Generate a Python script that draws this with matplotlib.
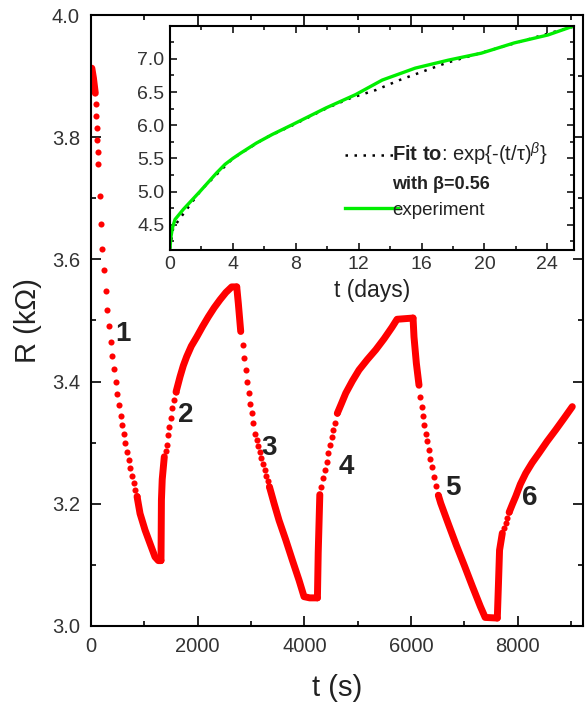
import matplotlib
matplotlib.use("Agg")
import matplotlib.pyplot as plt
from matplotlib.ticker import MultipleLocator, FormatStrFormatter

plt.rcParams["font.family"] = ["Liberation Sans", "DejaVu Sans"]
plt.rcParams["mathtext.fontset"] = "custom"
plt.rcParams["mathtext.rm"] = "Liberation Sans"
plt.rcParams["mathtext.bf"] = "Liberation Sans:bold"
plt.rcParams["mathtext.it"] = "Liberation Sans:italic"

# ---- main panel: resistance vs time (s) ----
# dense stretches (dots merge into a thick trace) and sparse dots, per segment
line1a_t = [15, 45, 80]
line1a_r = [3.913, 3.897, 3.872]
dots1_t = [85, 95, 105, 116, 126, 136, 164, 188, 214, 245, 276, 307, 338, 368, 399,
           430, 461, 492, 523, 554, 585, 615, 645, 675, 705, 735, 767, 800, 832, 863]
dots1_r = [3.854, 3.835, 3.815, 3.795, 3.775, 3.756, 3.704, 3.658, 3.617, 3.582, 3.549,
           3.518, 3.491, 3.465, 3.442, 3.421, 3.399, 3.380, 3.362, 3.344, 3.329, 3.314,
           3.299, 3.284, 3.271, 3.258, 3.246, 3.234, 3.223, 3.212]
line1b_t = [863, 919, 1013, 1106, 1200, 1262, 1312]
line1b_r = [3.212, 3.184, 3.157, 3.135, 3.113, 3.107, 3.107]

line2a_t = [1312, 1320, 1335, 1374]
line2a_r = [3.107, 3.206, 3.240, 3.277]
dots2_t = [1400, 1419, 1444, 1468, 1495, 1525, 1556, 1594]
dots2_r = [3.287, 3.296, 3.313, 3.326, 3.341, 3.356, 3.370, 3.383]
line2b_t = [1594, 1669, 1730, 1794, 1880, 1982, 2090, 2199, 2310, 2419, 2530, 2638, 2732]
line2b_r = [3.383, 3.408, 3.426, 3.441, 3.458, 3.473, 3.490, 3.506, 3.521, 3.534, 3.546,
            3.555, 3.555]

line3a_t = [2732, 2762, 2807]
line3a_r = [3.555, 3.528, 3.482]
dots3_t = [2844, 2874, 2901, 2928, 2957, 2984, 3013, 3043, 3075, 3105, 3135, 3165,
           3195, 3225, 3255, 3285, 3315, 3345]
dots3_r = [3.460, 3.438, 3.419, 3.400, 3.381, 3.364, 3.348, 3.332, 3.315, 3.305, 3.295,
           3.285, 3.275, 3.265, 3.256, 3.246, 3.237, 3.228]
line3b_t = [3345, 3431, 3525, 3651, 3774, 3900, 3994, 4100, 4245]
line3b_r = [3.228, 3.201, 3.173, 3.141, 3.108, 3.075, 3.048, 3.046, 3.046]

line4a_t = [4245, 4260, 4290]
line4a_r = [3.046, 3.120, 3.215]
dots4_t = [4307, 4350, 4388, 4419, 4449, 4481, 4513, 4543, 4575, 4618]
dots4_r = [3.228, 3.242, 3.255, 3.269, 3.283, 3.296, 3.310, 3.321, 3.332, 3.348]
line4b_t = [4618, 4700, 4776, 4900, 5025, 5180, 5338, 5494, 5644, 5738, 6038]
line4b_r = [3.348, 3.365, 3.381, 3.401, 3.419, 3.436, 3.452, 3.470, 3.489, 3.502, 3.504]

line5a_t = [6038, 6056, 6100, 6150]
line5a_r = [3.504, 3.473, 3.430, 3.394]
dots5_t = [6175, 6198, 6222, 6248, 6274, 6302, 6332, 6362, 6393, 6428, 6470, 6512]
dots5_r = [3.375, 3.359, 3.343, 3.329, 3.315, 3.302, 3.288, 3.274, 3.261, 3.244, 3.229, 3.214]
line5b_t = [6512, 6557, 6700, 6850, 7000, 7150, 7300, 7390, 7618]
line5b_r = [3.214, 3.201, 3.167, 3.132, 3.099, 3.065, 3.032, 3.014, 3.013]

line6a_t = [7618, 7640, 7660, 7712]
line6a_r = [3.013, 3.070, 3.124, 3.152]
dots6_t = [7745, 7776, 7808, 7840]
dots6_r = [3.160, 3.168, 3.177, 3.186]
line6b_t = [7840, 7900, 7963, 8050, 8151, 8270, 8400, 8550, 8713, 8870, 9024]
line6b_r = [3.186, 3.199, 3.212, 3.232, 3.250, 3.267, 3.283, 3.302, 3.321, 3.340, 3.359]

seg_labels = ["1", "2", "3", "4", "5", "6"]
seg_label_t = [600, 1781, 3337, 4781, 6788, 8231]
seg_label_r = [3.478, 3.345, 3.291, 3.260, 3.226, 3.209]

# ---- inset: long-term recovery (days) ----
exp_days = [0, 0.05, 0.15, 0.32, 0.84, 1.9, 2.96, 3.5, 4.0, 4.5, 5.49, 6.5, 7.8, 9.92,
            11.8, 13.5, 15.6, 17.7, 19.8, 21.9, 24.05, 25.5]
exp_vals = [4.14, 4.30, 4.45, 4.58, 4.73, 5.00, 5.28, 5.41, 5.50, 5.58, 5.73, 5.86,
            6.01, 6.26, 6.46, 6.68, 6.86, 6.98, 7.085, 7.24, 7.36, 7.48]
fit_days = [0, 0.2, 0.74, 2, 4, 6, 7.8, 10, 11.5, 13.1, 14.6, 16.1, 17.6, 19.5, 22,
            24.5, 25.6]
fit_vals = [4.14, 4.45, 4.63, 5.03, 5.50, 5.80, 6.00, 6.26, 6.41, 6.53, 6.68, 6.81,
            6.94, 7.07, 7.24, 7.41, 7.48]

RED = "#ff0000"
INK = "#222222"

fig = plt.figure(figsize=(5.85, 7.02), dpi=100)
ax = fig.add_axes([0.1556, 0.1083, 0.841, 0.8703])

dense = [(line1a_t, line1a_r), (line1b_t, line1b_r), (line2a_t, line2a_r),
         (line2b_t, line2b_r), (line3a_t, line3a_r), (line3b_t, line3b_r),
         (line4a_t, line4a_r), (line4b_t, line4b_r), (line5a_t, line5a_r),
         (line5b_t, line5b_r), (line6a_t, line6a_r), (line6b_t, line6b_r)]
sparse = [(dots1_t, dots1_r), (dots2_t, dots2_r), (dots3_t, dots3_r),
          (dots4_t, dots4_r), (dots5_t, dots5_r), (dots6_t, dots6_r)]

for t, r in dense:
    ax.plot(t, r, color=RED, lw=5.0, solid_capstyle="round", solid_joinstyle="round")
for t, r in sparse:
    ax.plot(t, r, "o", color=RED, ms=4.4, mew=0)

for lab, t, r in zip(seg_labels, seg_label_t, seg_label_r):
    ax.text(t, r, lab, fontsize=20, fontweight="bold", color=INK,
            ha="center", va="center")

ax.set_xlim(0, 9225)
ax.set_ylim(3.0, 4.0)
ax.xaxis.set_major_locator(MultipleLocator(2000))
ax.xaxis.set_minor_locator(MultipleLocator(1000))
ax.yaxis.set_major_locator(MultipleLocator(0.2))
ax.yaxis.set_minor_locator(MultipleLocator(0.1))
ax.yaxis.set_major_formatter(FormatStrFormatter("%.1f"))
ax.tick_params(which="both", direction="in", top=True, right=True, width=1.2,
               labelsize=14.5, labelcolor="#333333", pad=8)
ax.tick_params(which="major", length=7)
ax.tick_params(which="minor", length=3.6)
for s in ax.spines.values():
    s.set_linewidth(1.5)
ax.set_xlabel("t (s)", fontsize=21, color=INK, labelpad=13)
ax.set_ylabel("R (kΩ)", fontsize=21, color=INK, labelpad=7)

# inset
axi = fig.add_axes([0.2906, 0.6439, 0.6906, 0.3191])
axi.plot(fit_days, fit_vals, color="black", lw=1.8, linestyle=(0, (1.0, 2.6)),
         label=r"$\mathbf{Fit\ to}$: exp{-(t/τ)$^{β}$}")
axi.plot([], [], linestyle="none", label="with β=0.56")
axi.plot(exp_days, exp_vals, color="#00ee00", lw=2.4, label="experiment")
axi.set_xlim(0, 25.7)
axi.set_ylim(4.12, 7.495)
axi.xaxis.set_major_locator(MultipleLocator(4))
axi.xaxis.set_minor_locator(MultipleLocator(2))
axi.yaxis.set_major_locator(MultipleLocator(0.5))
axi.yaxis.set_minor_locator(MultipleLocator(0.25))
axi.yaxis.set_major_formatter(FormatStrFormatter("%.1f"))
axi.tick_params(which="both", direction="in", top=True, right=True, width=1.1,
                labelsize=14, labelcolor="#333333", pad=4)
axi.tick_params(which="major", length=5)
axi.tick_params(which="minor", length=3)
for s in axi.spines.values():
    s.set_linewidth(1.5)
axi.set_xlabel("t (days)", fontsize=16.5, color=INK, labelpad=5)

leg = axi.legend(loc="upper left", bbox_to_anchor=(0.41, 0.53), frameon=False,
                 fontsize=13.5, handlelength=2.8, handletextpad=-0.3,
                 labelspacing=0.45, borderpad=0)
texts = leg.get_texts()
texts[0].set_fontsize(14.5)
texts[1].set_fontweight("bold")
texts[1].set_fontsize(13)
for tx in texts:
    tx.set_color(INK)

fig.savefig("out.png", dpi=100)
